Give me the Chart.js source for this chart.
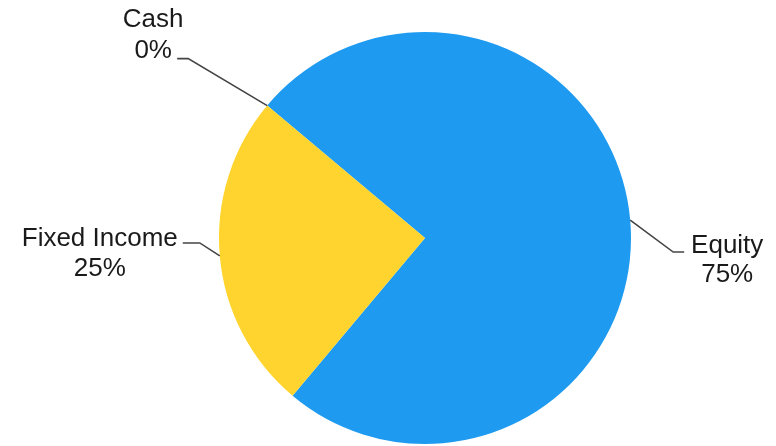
<!DOCTYPE html>
<html>
<head>
<meta charset="utf-8">
<script src="https://cdn.jsdelivr.net/npm/chart.js@4"></script>
<style>
  body { margin: 0; background: #fff; }
  #wrap { width: 776px; height: 446px; position: relative; }
</style>
</head>
<body>
<div id="wrap"><canvas id="pie"></canvas></div>
<script>
const categories = ['Equity', 'Fixed Income', 'Cash'];
const allocation = [75, 25, 0];
const sliceColors = ['#1E9BF0', '#FFD42E', '#9E9E9E'];

// leader line + label placement, relative to the point on the arc
const labelLayout = [
    { elbow: [43, 32], hook: 11, text: [43, 1], lineGap: 29 },
    { elbow: [-20, -13], hook: -17, text: [-83, 3], lineGap: 30 },
    { elbow: [-79, -47], hook: -11, text: [-24, -32], lineGap: 31 }
];

const leaderLabels = {
    id: 'leaderLabels',
    afterDraw(chart) {
        const ctx = chart.ctx;
        const meta = chart.getDatasetMeta(0);
        const total = allocation.reduce((a, b) => a + b, 0);
        ctx.save();
        ctx.font = '26px "Liberation Sans", Arial, sans-serif';
        ctx.fillStyle = '#1a1a1a';
        ctx.strokeStyle = '#444';
        ctx.lineWidth = 1.6;
        ctx.textAlign = 'center';
        ctx.textBaseline = 'alphabetic';
        meta.data.forEach((arc, i) => {
            const p = arc.getProps(['x', 'y', 'startAngle', 'endAngle', 'outerRadius'], true);
            const mid = (p.startAngle + p.endAngle) / 2;
            const ax = p.x + Math.cos(mid) * p.outerRadius;
            const ay = p.y + Math.sin(mid) * p.outerRadius;
            const lay = labelLayout[i];
            const ex = ax + lay.elbow[0], ey = ay + lay.elbow[1];
            const hx = ex + lay.hook;
            ctx.beginPath();
            ctx.moveTo(ax, ay);
            ctx.lineTo(ex, ey);
            ctx.lineTo(hx, ey);
            ctx.stroke();
            const tx = hx + lay.text[0], ty = ey + lay.text[1];
            const pct = Math.round(allocation[i] / total * 100) + '%';
            ctx.fillText(categories[i], tx, ty);
            ctx.fillText(pct, tx, ty + lay.lineGap);
        });
        ctx.restore();
    }
};

new Chart(document.getElementById('pie'), {
    type: 'pie',
    data: {
        labels: categories,
        datasets: [{
            data: allocation,
            backgroundColor: sliceColors,
            borderWidth: 0
        }]
    },
    options: {
        responsive: true,
        maintainAspectRatio: false,
        animation: false,
        rotation: -50,
        layout: { padding: { left: 74, right: 0, top: 32, bottom: 2 } },
        plugins: {
            legend: { display: false },
            tooltip: { enabled: false }
        }
    },
    plugins: [leaderLabels]
});
</script>
</body>
</html>
